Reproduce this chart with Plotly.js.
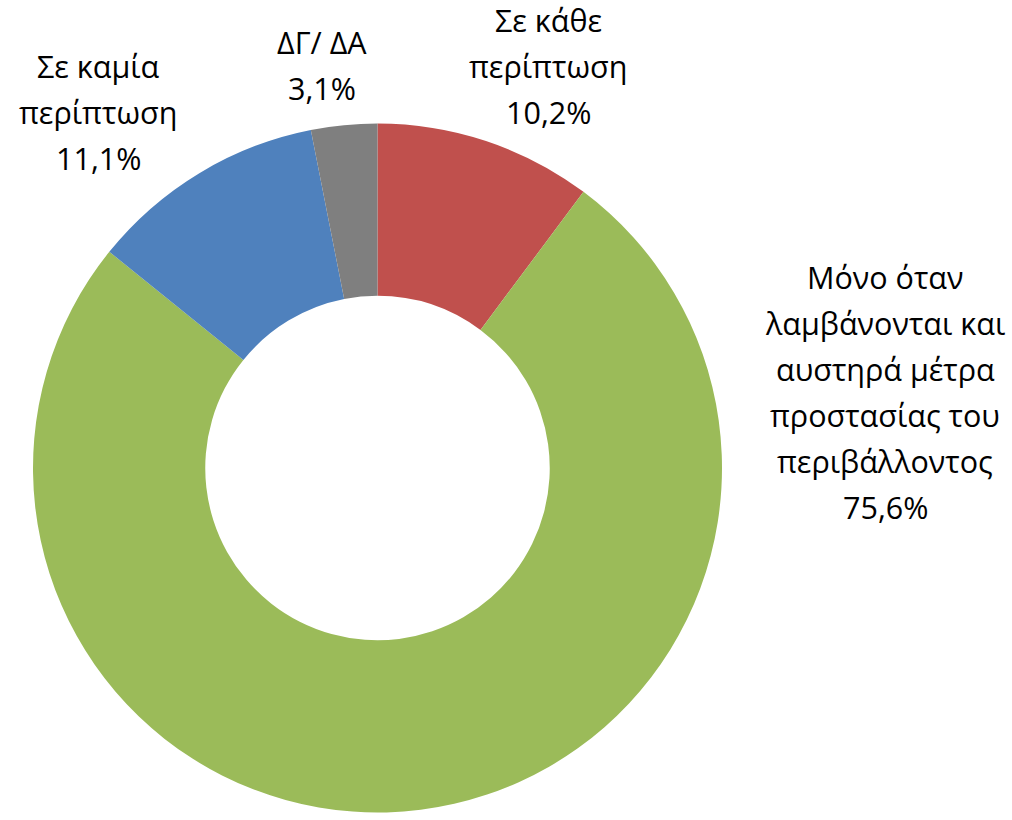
<!DOCTYPE html>
<html>
<head>
<meta charset="utf-8">
<script src="https://cdn.plot.ly/plotly-3.0.1.min.js"></script>
<style>html,body{margin:0;padding:0;background:#fff;}#chart{width:1012px;height:820px;}</style>
</head>
<body>
<div id="chart"></div>
<script>
// Data
const categories = [
  "Σε κάθε<br>περίπτωση",
  "Μόνο όταν<br>λαμβάνονται και<br>αυστηρά μέτρα<br>προστασίας του<br>περιβάλλοντος",
  "Σε καμία<br>περίπτωση",
  "ΔΓ/ ΔΑ"
];
const values = [10.2, 75.6, 11.1, 3.1];
const colors = ["#C0504D", "#9BBB59", "#4F81BD", "#7F7F7F"];

// Label layout (pixel positions of label centre x and first line centre y)
const W = 1012, H = 820;
const labelPos = [
  {x: 548, y: 20},
  {x: 885, y: 277},
  {x: 98,  y: 66},
  {x: 322, y: 42}
];
const lineGap = 46;
const fontFamily = "'Open Sans', 'Noto Sans', sans-serif";
const fontSize = 30.5;

const annotations = [];
categories.forEach((cat, i) => {
  const pct = values[i].toFixed(1).replace('.', ',') + '%';
  const lines = cat.split('<br>').concat([pct]);
  lines.forEach((ln, j) => {
    annotations.push({
      xref: 'paper', yref: 'paper',
      x: labelPos[i].x / W,
      y: 1 - (labelPos[i].y + j * lineGap) / H,
      xanchor: 'center', yanchor: 'middle',
      text: ln, showarrow: false,
      font: {family: fontFamily, size: fontSize, color: '#000000'}
    });
  });
});

const trace = {
  type: 'pie',
  labels: categories,
  values: values,
  marker: {colors: colors, line: {width: 0}},
  hole: 0.5,
  sort: false,
  direction: 'clockwise',
  rotation: 0,
  textinfo: 'none',
  hoverinfo: 'none',
  showlegend: false,
  domain: {x: [33 / W, 722 / W], y: [1 - 813 / H, 1 - 123 / H]}
};

const layout = {
  width: W, height: H,
  margin: {l: 0, r: 0, t: 0, b: 0},
  paper_bgcolor: '#ffffff',
  plot_bgcolor: '#ffffff',
  showlegend: false,
  annotations: annotations
};

Plotly.newPlot('chart', [trace], layout, {displayModeBar: false, staticPlot: true});
</script>
</body>
</html>
